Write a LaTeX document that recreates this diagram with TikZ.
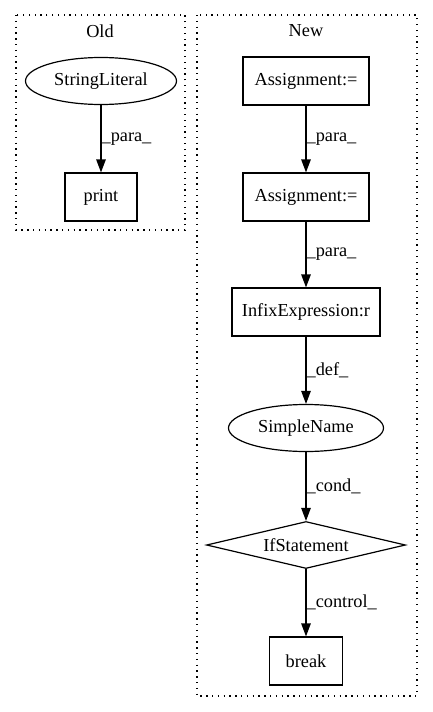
\documentclass[tikz,border=0pt]{standalone}
\usepackage{fontspec}
\setmainfont{Liberation Serif}
\usetikzlibrary{shapes.geometric,arrows.meta}
\begin{document}
\begin{tikzpicture}[x=1pt,y=-1pt,
  every node/.style={font=\fontsize{18.3pt}{21pt}\selectfont, inner sep=0pt},
  boxn/.style={draw, line width=1.2pt, rectangle, minimum height=48pt},
  elln/.style={draw, line width=1.2pt, ellipse, minimum height=47pt},
  diam/.style={draw, line width=1.2pt, diamond, aspect=4.2, minimum width=199pt, minimum height=47pt},
  cluster/.style={draw, line width=1.2pt, dash pattern=on 1.3pt off 4.5pt},
  edge/.style={line width=1.2pt, -{Triangle[length=13pt,width=9.5pt]}},
  elab/.style={anchor=west}]
\useasboundingbox (0,0) rectangle (432,712);
\draw[cluster] (16,15) rectangle (185,230);
\draw[cluster] (197,15) rectangle (417,696);
\node (oldt) at (100,31) {Old};
\node (newt) at (306,31) {New};
\node[elln, minimum width=151pt] (sl) at (101,81) {StringLiteral};
\node[boxn, minimum width=72pt] (pr) at (101,197) {print};
\node[boxn, minimum width=126pt] (a1) at (306,81) {Assignment:=};
\node[boxn, minimum width=126pt] (a2) at (306,197) {Assignment:=};
\node[boxn, minimum width=148pt] (ie) at (306,312) {InfixExpression:r};
\node[elln, minimum width=155pt] (sn) at (306,428) {SimpleName};
\node[diam] (if) at (306,545) {IfStatement};
\node[boxn, minimum width=73pt] (br) at (306,661) {break};
\draw[edge] (sl) -- node[elab, pos=0.5] {\_para\_} (pr);
\draw[edge] (a1) -- node[elab, pos=0.5] {\_para\_} (a2);
\draw[edge] (a2) -- node[elab, pos=0.5] {\_para\_} (ie);
\draw[edge] (ie) -- node[elab, pos=0.5] {\_def\_} (sn);
\draw[edge] (sn) -- node[elab, pos=0.5] {\_cond\_} (if);
\draw[edge] (if) -- node[elab, pos=0.5] {\_control\_} (br);
\end{tikzpicture}
\end{document}
